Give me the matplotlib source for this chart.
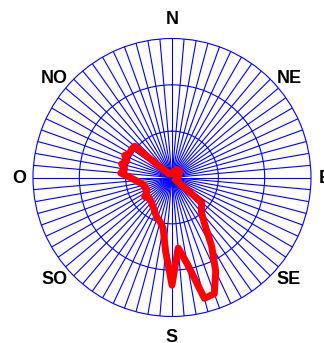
import numpy as np
import matplotlib
matplotlib.use("Agg")
import matplotlib.pyplot as plt

# Compass bearings (degrees clockwise from north) and relative frequency per sector
bearings = np.arange(0, 360, 5)
freq = [
    0.03, 0.03, 0.04, 0.04, 0.05, 0.05, 0.06, 0.06, 0.07, 0.07,   # 0-45
    0.07, 0.06, 0.06, 0.05, 0.05, 0.05, 0.04, 0.04, 0.04, 0.03,   # 50-95
    0.03, 0.03, 0.03, 0.03, 0.03, 0.03, 0.28, 0.30, 0.33, 0.41,   # 100-145
    0.57, 0.745, 0.89, 0.90, 0.63, 0.51, 0.775, 0.53, 0.37, 0.33, # 150-195
    0.31, 0.285, 0.26, 0.245, 0.23, 0.225, 0.22, 0.24, 0.21, 0.20,  # 200-245
    0.21, 0.21, 0.23, 0.26, 0.30, 0.37, 0.345, 0.375, 0.345, 0.375, # 250-295
    0.35, 0.355, 0.35, 0.05, 0.03, 0.03, 0.03, 0.03, 0.03, 0.03,  # 300-345
    0.03, 0.03,                                                    # 350-355
]
ring_levels = [1 / 3, 2 / 3]
direction_labels = ["N", "NE", "E", "SE", "S", "SO", "O", "NO"]
# label anchor points in pixels (centre x, baseline y)
label_px = [(172, 24), (289, 83), (324.5, 183), (288.5, 284),
            (172, 342), (54.5, 284), (19.5, 183), (54.5, 83)]

W, H = 324, 343
fig = plt.figure(figsize=(W / 100, H / 100), dpi=100)
R = 139
cx, cy = 172, 177.5
ax = fig.add_axes([(cx - R) / W, (H - cy - R) / H, 2 * R / W, 2 * R / H],
                  projection="polar")
ax.set_theta_zero_location("N")
ax.set_theta_direction(-1)
ax.set_ylim(0, 1)

ax.set_thetagrids(np.arange(0, 360, 5), labels=[])
ax.set_rgrids(ring_levels, labels=[])
ax.tick_params(length=0)
ax.grid(True, color="#0000ff", linewidth=0.8)
ax.spines["polar"].set_color("#0000ff")
ax.spines["polar"].set_linewidth(0.8)

theta = np.deg2rad(np.append(bearings, bearings[0]))
r = np.append(freq, freq[0])
ax.plot(theta, r, color="#ff0000", linewidth=5.0,
        solid_joinstyle="round", solid_capstyle="round", zorder=3)

for lab, (px, py) in zip(direction_labels, label_px):
    fig.text(px / W, 1 - py / H, lab, ha="center", va="baseline",
             fontsize=13, fontweight="bold", family="Liberation Sans")

fig.savefig("out.png", dpi=100)
